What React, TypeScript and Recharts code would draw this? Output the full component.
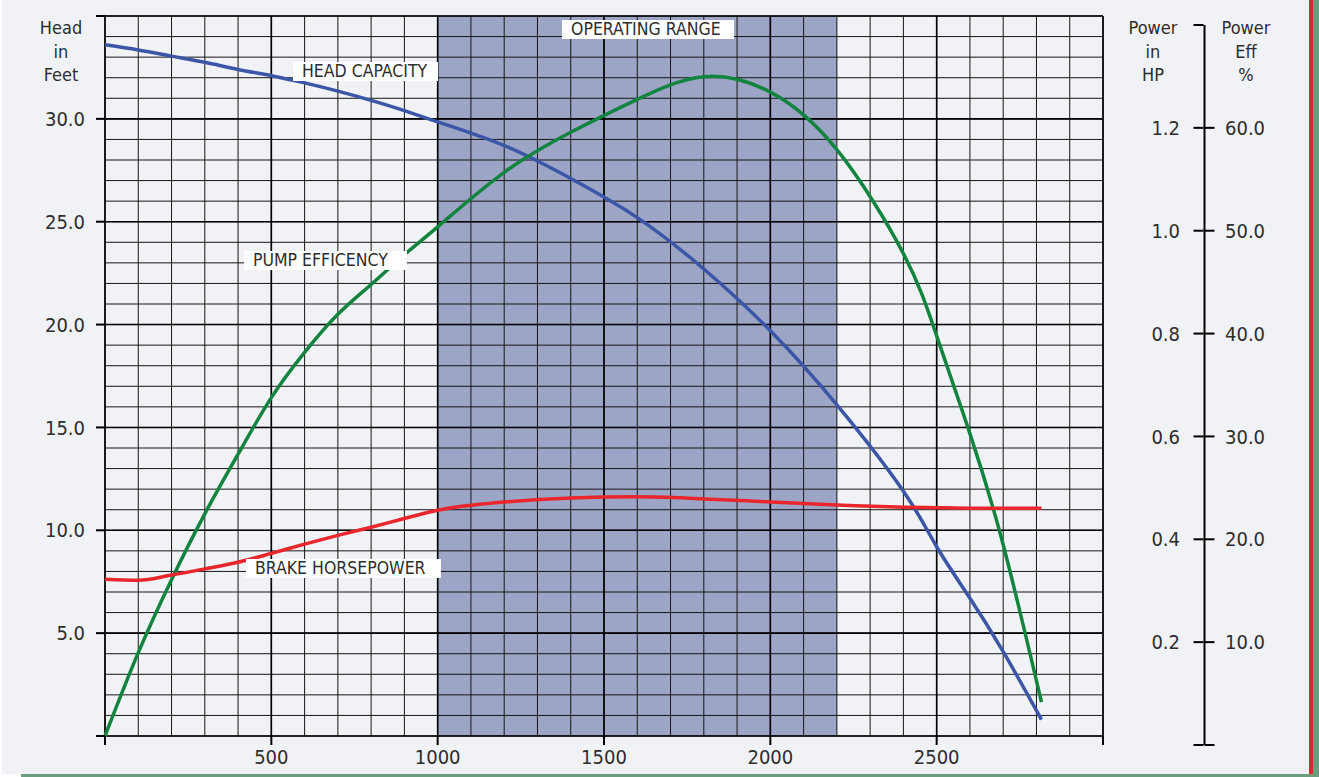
import { ComposedChart, Line, XAxis, YAxis, CartesianGrid } from 'recharts';

// flow in gpm
const flow = [0, 100, 200, 300, 400, 500, 600, 700, 800, 900, 1000, 1200, 1400, 1600, 1800, 2000, 2200, 2400, 2500, 2600, 2700, 2815];
const headFeet = [33.6, 33.35, 33.05, 32.75, 32.4, 32.1, 31.75, 31.35, 30.9, 30.4, 29.85, 28.7, 27.1, 25.2, 22.7, 19.7, 16.1, 11.9, 9.2, 6.7, 4.1, 0.8];
const pumpEff = [0, 8.1, 15.2, 21.6, 27.4, 32.9, 37.3, 41.0, 43.9, 46.8, 49.5, 54.8, 58.7, 61.9, 64.1, 62.6, 57.0, 46.9, 38.9, 29.4, 18.6, 3.3];
const brakeHp = [0.305, 0.303, 0.313, 0.325, 0.338, 0.355, 0.373, 0.39, 0.406, 0.423, 0.439, 0.455, 0.463, 0.465, 0.461, 0.455, 0.449, 0.445, 0.444, 0.443, 0.443, 0.443];

const flowTicks = [0, 500, 1000, 1500, 2000, 2500, 3000];
const headTicks = [0, 5, 10, 15, 20, 25, 30, 35];
const hpTicks = [0, 0.2, 0.4, 0.6, 0.8, 1.0, 1.2, 1.4];
const effTicks = [0, 10, 20, 30, 40, 50, 60];
const operatingRange = [1000, 2200];

const minorFlowGrid = Array.from({ length: 31 }, (_, i) => i * 100);
const minorHeadGrid = Array.from({ length: 36 }, (_, i) => i);

const FONT = "'DejaVu Sans Condensed', 'DejaVu Sans', sans-serif";
const TEXT = '#2d2d2d';
const SHADE = '#9da5c7';

const rows = flow.map((f, i) => ({ flow: f, head: headFeet[i], eff: pumpEff[i], hp: brakeHp[i] }));
const stripeFills = minorFlowGrid.map((v) => (v >= operatingRange[0] && v < operatingRange[1] ? SHADE : 'none'));

const fmt = (skip: number[]) => (v: number) => (skip.includes(v) ? '' : v.toFixed(1));

function Tag({ text, left, top, width }: { text: string; left: number; top: number; width: number }) {
  return (
    <div
      style={{
        position: 'absolute', left, top, width, height: 19, background: '#fff',
        fontSize: 17.5, lineHeight: '19px', paddingLeft: 9, boxSizing: 'border-box',
        color: TEXT, whiteSpace: 'nowrap',
      }}
    >
      {text}
    </div>
  );
}

function Title({ lines, cx }: { lines: string[]; cx: number }) {
  return (
    <div
      style={{
        position: 'absolute', left: cx - 50, top: 16, width: 100, textAlign: 'center',
        fontSize: 18, lineHeight: '23.5px', color: TEXT,
      }}
    >
      {lines.map((l) => <div key={l}>{l}</div>)}
    </div>
  );
}

export default function App() {
  return (
    <div style={{ position: 'fixed', left: 0, top: 0, width: 1319, height: 777, background: '#fff', fontFamily: FONT, overflow: 'hidden' }}>
      <div style={{ position: 'absolute', left: 2, top: 0, width: 1307, height: 774, background: '#f1f2f6' }} />
      <div style={{ position: 'absolute', left: 21, top: 774, width: 1298, height: 3, background: '#6b9e7e' }} />
      <div style={{ position: 'absolute', left: 1309, top: 0, width: 4, height: 774, background: '#d42a2e' }} />
      <div style={{ position: 'absolute', left: 1313, top: 0, width: 6, height: 777, background: '#6b9e7e' }} />

      <div style={{ position: 'absolute', left: 0, top: 0 }}>
        <ComposedChart width={1319} height={777} data={rows} margin={{ top: 16, right: 216, bottom: 11, left: 0 }}>
          <CartesianGrid
            verticalValues={minorFlowGrid}
            horizontalValues={minorHeadGrid}
            verticalFill={stripeFills}
            stroke="#161616"
            strokeWidth={1}
          />
          <CartesianGrid
            verticalValues={flowTicks}
            horizontalValues={headTicks}
            stroke="#000"
            strokeWidth={1.6}
          />
          <XAxis
            type="number"
            dataKey="flow"
            domain={[0, 3000]}
            ticks={flowTicks}
            interval={0}
            height={30}
            tickSize={9}
            tickMargin={5}
            axisLine={false}
            tickLine={{ stroke: '#000', strokeWidth: 2 }}
            tick={{ fill: TEXT, fontSize: 20 }}
            tickFormatter={(v: number) => (v === 0 || v === 3000 ? '' : String(v))}
          />
          <YAxis
            domain={[0, 35]}
            ticks={headTicks}
            interval={0}
            width={105}
            tickSize={9}
            tickMargin={11}
            axisLine={false}
            tickLine={{ stroke: '#000', strokeWidth: 2 }}
            tick={{ fill: TEXT, fontSize: 20 }}
            tickFormatter={fmt([0, 35])}
          />
          <YAxis yAxisId="eff" orientation="right" domain={[0, 70]} hide />
          <YAxis yAxisId="hp" orientation="right" domain={[0, 1.4]} hide />
          <Line type="natural" dataKey="head" stroke="#3b56a6" strokeWidth={3.5} dot={false} isAnimationActive={false} />
          <Line type="natural" dataKey="eff" yAxisId="eff" stroke="#13843f" strokeWidth={3.5} dot={false} isAnimationActive={false} />
          <Line type="monotone" dataKey="hp" yAxisId="hp" stroke="#e8262b" strokeWidth={3.5} dot={false} isAnimationActive={false} />
        </ComposedChart>
      </div>

      <div style={{ position: 'absolute', left: 0, top: 0 }}>
        <ComposedChart width={1319} height={777} data={rows} margin={{ top: 25, right: 54.5, bottom: 32, left: 1143.5 }}>
          <XAxis type="number" dataKey="flow" domain={[0, 3000]} hide />
          <YAxis
            yAxisId="hp"
            orientation="left"
            domain={[0, 1.4]}
            ticks={hpTicks}
            interval={0}
            width={60}
            tickSize={10}
            tickMargin={13.5}
            axisLine={false}
            tickLine={{ stroke: '#000', strokeWidth: 2 }}
            tick={{ fill: TEXT, fontSize: 20 }}
            tickFormatter={fmt([0, 1.4])}
          />
          <YAxis
            yAxisId="eff"
            orientation="right"
            domain={[0, 70]}
            ticks={effTicks}
            interval={0}
            width={60}
            tickSize={10}
            tickMargin={10.5}
            axisLine={{ stroke: '#000', strokeWidth: 2 }}
            tickLine={{ stroke: '#000', strokeWidth: 2 }}
            tick={{ fill: TEXT, fontSize: 20, textAnchor: 'start' }}
            tickFormatter={fmt([0])}
          />
          <Line dataKey="hp" yAxisId="hp" stroke="none" dot={false} activeDot={false} isAnimationActive={false} />
          <Line dataKey="eff" yAxisId="eff" stroke="none" dot={false} activeDot={false} isAnimationActive={false} />
        </ComposedChart>
      </div>

      <Title lines={['Head', 'in', 'Feet']} cx={61} />
      <Title lines={['Power', 'in', 'HP']} cx={1153} />
      <Title lines={['Power', 'Eff', '%']} cx={1246} />

      <Tag text="OPERATING RANGE" left={562} top={20} width={172} />
      <Tag text="HEAD CAPACITY" left={293} top={62} width={145} />
      <Tag text="PUMP EFFICENCY" left={244} top={251} width={163} />
      <Tag text="BRAKE HORSEPOWER" left={246} top={559} width={195} />
    </div>
  );
}
